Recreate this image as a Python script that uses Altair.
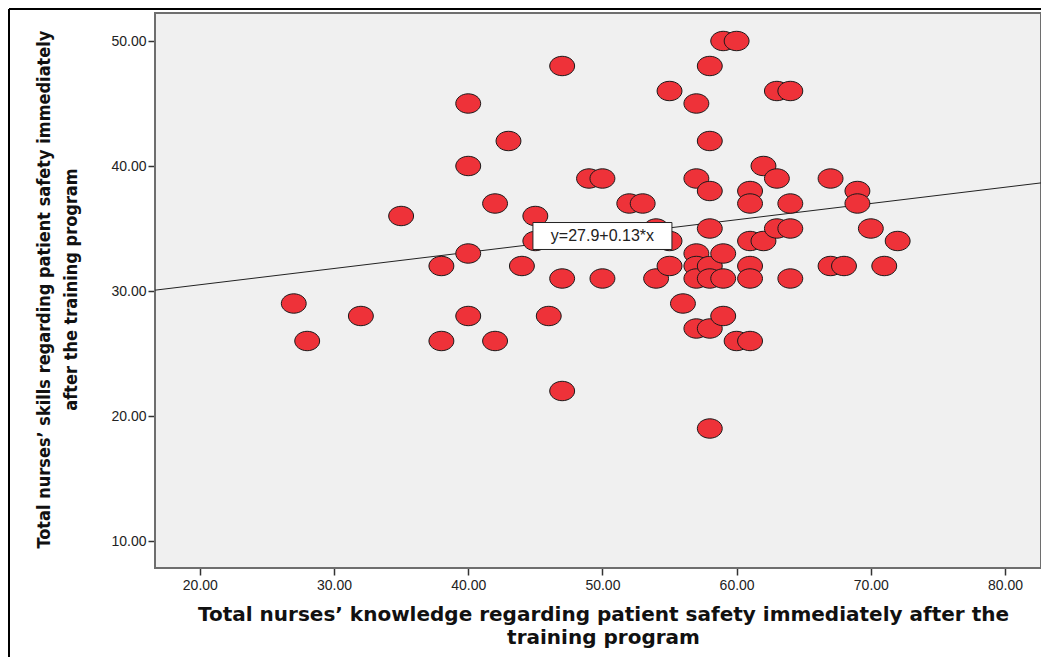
import altair as alt
import pandas as pd

# Scatter data
knowledge = [27, 28, 32, 35, 38, 38, 40, 40, 40, 40, 42, 42, 43, 44, 45, 45, 46, 47, 47, 47,
             49, 50, 50, 52, 53, 54, 54, 55, 55, 55, 56, 57, 57, 57, 57, 57, 57, 59, 60, 58,
             58, 58, 58, 58, 58, 58, 58, 59, 59, 59, 60, 61, 61, 61, 61, 61, 61, 62, 62, 63,
             64, 63, 63, 64, 64, 64, 67, 67, 68, 69, 69, 70, 71, 72]
skills = [29, 26, 28, 36, 32, 26, 45, 40, 33, 28, 37, 26, 42, 32, 36, 34, 28, 48, 31, 22,
          39, 39, 31, 37, 37, 35, 31, 46, 34, 32, 29, 45, 39, 33, 32, 31, 27, 50, 50, 48,
          42, 38, 35, 32, 31, 27, 19, 33, 31, 28, 26, 38, 37, 34, 32, 31, 26, 40, 34, 46,
          46, 39, 35, 35, 37, 31, 39, 32, 32, 38, 37, 35, 32, 34]

# Fit line as shown in the chart
intercept = 27.9
slope = 0.13
fit_label = "y=27.9+0.13*x"
label_at_x = 50

x_domain = [16.66, 82.68]
y_domain = [7.84, 52.24]
x_ticks = [20, 30, 40, 50, 60, 70, 80]
y_ticks = [10, 20, 30, 40, 50]

x_title = ["Total nurses\u2019 knowledge regarding patient safety immediately after the",
           "training program"]
y_title = ["Total nurses\u2019 skills regarding patient safety immediately",
           "after the training program"]

W, H = 886, 555

pts = pd.DataFrame({"k": knowledge, "s": skills})
line_df = pd.DataFrame({"k": x_domain, "s": [intercept + slope * v for v in x_domain]})
lab_df = pd.DataFrame({"k": [label_at_x], "s": [intercept + slope * label_at_x], "t": [fit_label]})

xscale = alt.Scale(domain=x_domain, nice=False, zero=False)
yscale = alt.Scale(domain=y_domain, nice=False, zero=False)

xaxis = alt.Axis(values=x_ticks, format=".2f", title=x_title, grid=False, domain=False,
                 tickSize=7, tickColor="#333", tickWidth=1.5,
                 labelFont="Liberation Sans", labelFontSize=14, labelColor="#222", labelPadding=3,
                 titleFont="DejaVu Sans", titleFontSize=20, titleFontWeight="bold", titleColor="#111",
                 titleX=448, titleY=36, titleBaseline="top", titleLineHeight=23)
yaxis = alt.Axis(values=y_ticks, format=".2f", title=y_title, grid=False, domain=False,
                 tickSize=7, tickColor="#333", tickWidth=1.5,
                 labelFont="Liberation Sans", labelFontSize=14, labelColor="#222", labelPadding=2,
                 titleFont="DejaVu Sans Condensed", titleFontSize=18, titleFontWeight="bold", titleColor="#111",
                 titleX=-120, titleY=276, titleAngle=-90, titleBaseline="top", titleLineHeight=27)

ellipse = "M -1 0 A 1 0.78 0 1 1 1 0 A 1 0.78 0 1 1 -1 0 Z"
boxshape = "M -1 -0.194 L 1 -0.194 L 1 0.194 L -1 0.194 Z"

bg = alt.Chart(lab_df).mark_rect(fill="#f0f0f0", stroke="#6e6e6e", strokeWidth=2).encode(
    x=alt.value(0), x2=alt.value(W), y=alt.value(0), y2=alt.value(H))

fit = alt.Chart(line_df).mark_line(color="#222", strokeWidth=1).encode(
    x=alt.X("k:Q", scale=xscale, axis=xaxis),
    y=alt.Y("s:Q", scale=yscale, axis=yaxis),
)

points = alt.Chart(pts).mark_point(
    shape=ellipse, size=620, filled=True, fill="#ee3239", fillOpacity=1,
    stroke="#1a1a1a", strokeWidth=1, opacity=1
).encode(x=alt.X("k:Q", scale=xscale), y=alt.Y("s:Q", scale=yscale))

box = alt.Chart(lab_df).mark_point(
    shape=boxshape, size=139 * 139, filled=True, fill="white", fillOpacity=1,
    stroke="#222", strokeWidth=1, opacity=1
).encode(x=alt.X("k:Q", scale=xscale), y=alt.Y("s:Q", scale=yscale))

label = alt.Chart(lab_df).mark_text(
    font="Liberation Sans", fontSize=16, color="#222", align="center", baseline="middle"
).encode(x=alt.X("k:Q", scale=xscale), y=alt.Y("s:Q", scale=yscale), text="t:N")

frame_left = alt.Chart(lab_df).mark_rule(color="black", strokeWidth=2).encode(
    x=alt.value(-146), y=alt.value(-4), y2=alt.value(700))
frame_top = alt.Chart(lab_df).mark_rule(color="black", strokeWidth=2).encode(
    x=alt.value(-146), x2=alt.value(W + 10), y=alt.value(-4))

chart = alt.layer(bg, fit, points, box, label, frame_left, frame_top).properties(
    width=W, height=H,
    background="white",
    autosize=alt.AutoSizeParams(type="none"),
    padding={"left": 147, "top": 5, "right": 0, "bottom": 89},
).configure_view(stroke=None)

chart.save("out.html", embed_options={"renderer": "svg", "actions": False})
